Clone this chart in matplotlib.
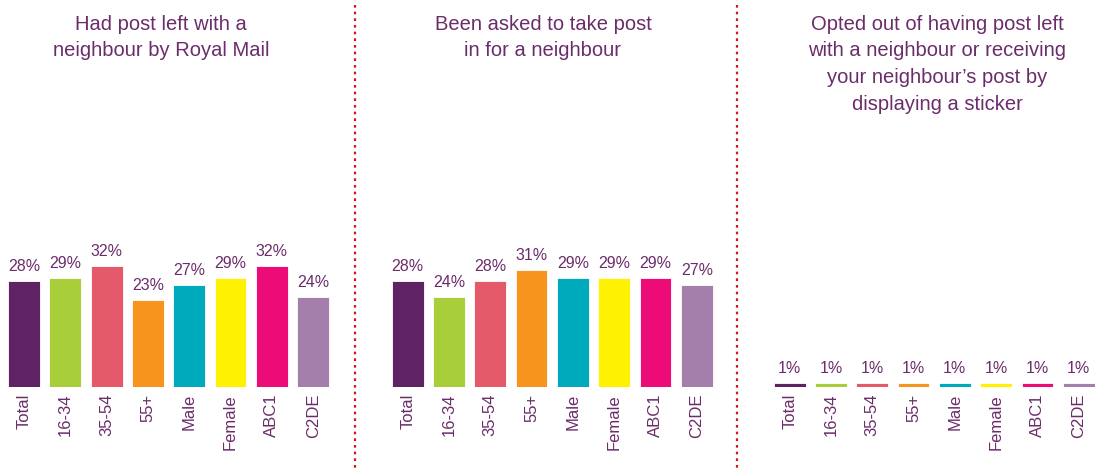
import matplotlib
matplotlib.use("Agg")
import matplotlib.pyplot as plt
from matplotlib.lines import Line2D

categories = ["Total", "16-34", "35-54", "55+", "Male", "Female", "ABC1", "C2DE"]
had_post_left = [28, 29, 32, 23, 27, 29, 32, 24]
asked_to_take = [28, 24, 28, 31, 29, 29, 29, 27]
opted_out = [1, 1, 1, 1, 1, 1, 1, 1]
titles = [
    "Had post left with a\nneighbour by Royal Mail",
    "Been asked to take post\nin for a neighbour",
    "Opted out of having post left\nwith a neighbour or receiving\nyour neighbour\u2019s post by\ndisplaying a sticker",
]
colors = ["#5F2262", "#A8CE3A", "#E55A6A", "#F7941D", "#00AABD", "#FFF200", "#EC0B77", "#A57FAB"]
text_color = "#6B2C6A"

W, H = 1095, 468
fig = plt.figure(figsize=(W / 100, H / 100), dpi=100)
plt.rcParams['font.family'] = ['Liberation Sans', 'DejaVu Sans']

pitch = 41.3
base_y = 387
px_per_pct = 3.77
ymax = 40
ax_h = ymax * px_per_pct
lefts = [3.4, 387, 769]
title_x = [161, 543, 937]
series = [had_post_left, asked_to_take, opted_out]

for left, vals, title, tx in zip(lefts, series, titles, title_x):
    ax = fig.add_axes([left / W, (H - base_y) / H, 8 * pitch / W, ax_h / H])
    x = list(range(len(categories)))
    ax.bar(x, vals, width=0.77, color=colors, edgecolor="white", linewidth=0.6)
    for xi, v in zip(x, vals):
        ax.annotate(f"{v}%", (xi, v), xytext=(0, 5), textcoords="offset points",
                    ha="center", va="bottom", fontsize=11.5, color=text_color)
    ax.set_xlim(-0.5, 7.5)
    ax.set_ylim(0, ymax)
    ax.set_xticks(x)
    ax.set_xticklabels(categories, rotation=90, fontsize=12, color=text_color)
    ax.tick_params(axis="x", length=0, pad=5)
    ax.set_yticks([])
    for s in ax.spines.values():
        s.set_visible(False)
    ax.patch.set_alpha(0)
    fig.text(tx / W, 1 - 15 / H, title, ha="center", va="top", fontsize=14.5,
             color=text_color, linespacing=1.5)

for sx in [355, 737]:
    fig.add_artist(Line2D([sx / W, sx / W], [1 - 5 / H, 0], color="#D0191E",
                          linestyle=(0, (1.2, 1.8)), linewidth=1.6))

fig.savefig("out.png", dpi=100)
